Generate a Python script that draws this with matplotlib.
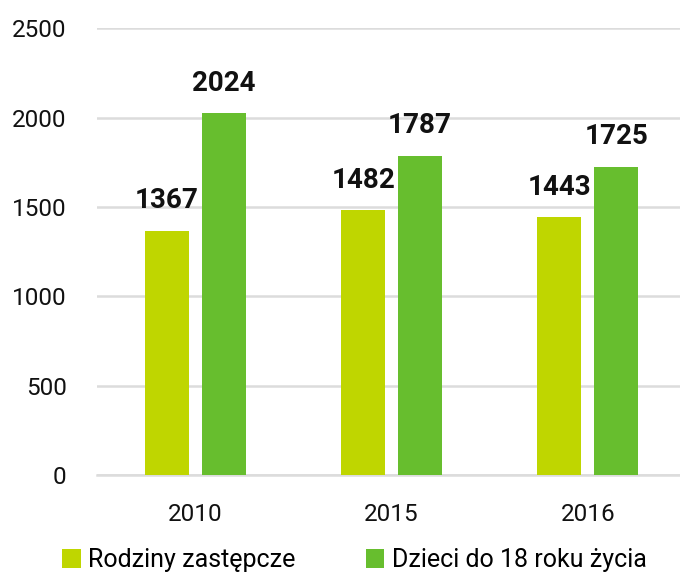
import matplotlib
matplotlib.use("Agg")
import matplotlib.pyplot as plt
import numpy as np

plt.rcParams["font.family"] = ["Roboto", "DejaVu Sans"]

years = ["2010", "2015", "2016"]
rodziny = [1367, 1482, 1443]
dzieci = [2024, 1787, 1725]
series_names = ["Rodziny zastępcze", "Dzieci do 18 roku życia"]
yticks = [0, 500, 1000, 1500, 2000, 2500]

C_YEL = "#bfd600"
C_GRN = "#67be2e"

fig = plt.figure(figsize=(6.8, 5.86), dpi=100)
ax = fig.add_axes([0.143, 0.189, 0.857, 0.763])

x = np.arange(len(years))
w = 0.224
off = 0.145
b1 = ax.bar(x - off, rodziny, w, color=C_YEL, zorder=3)
b2 = ax.bar(x + off, dzieci, w, color=C_GRN, zorder=3)

for bars in (b1, b2):
    for r in bars:
        ax.annotate(f"{int(r.get_height())}", (r.get_x() + r.get_width() / 2, r.get_height()),
                    xytext=(0, 12), textcoords="offset points", ha="center", va="bottom",
                    fontsize=20, fontweight="bold", color="#111111")

ax.set_ylim(0, 2500)
ax.set_xlim(-0.5, 2.47)
ax.set_yticks(yticks)
ax.set_xticks(x)
ax.set_xticklabels(years)
ax.tick_params(length=0, labelsize=17.5, colors="#111111")
ax.tick_params(axis="y", pad=22)
ax.tick_params(axis="x", pad=20)
ax.grid(axis="y", color="#dcdcdc", lw=1.8, zorder=0)
for s in ("top", "right", "left"):
    ax.spines[s].set_visible(False)
ax.spines["bottom"].set_color("#dcdcdc")
ax.spines["bottom"].set_linewidth(1.8)

fig.legend([b1, b2], series_names, loc="lower left", bbox_to_anchor=(0.058, -0.015),
           ncol=2, frameon=False, fontsize=18, handlelength=0.75, handleheight=0.75,
           handletextpad=0.3, columnspacing=2.8)

fig.savefig("out.png", dpi=100)
